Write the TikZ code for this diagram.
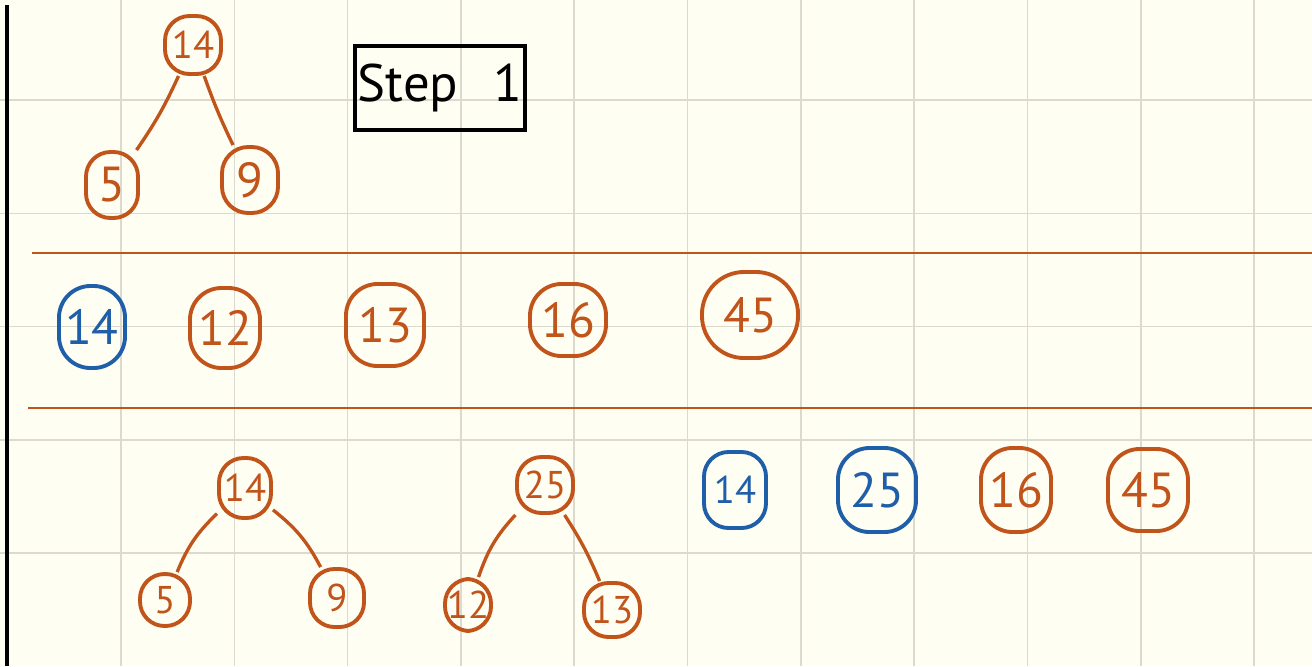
\documentclass[tikz,border=0pt]{standalone}
\usepackage{fontspec}
\setmainfont{PT Sans}
\usetikzlibrary{positioning}
\definecolor{paper}{HTML}{FFFEF2}
\definecolor{gridc}{HTML}{DCDACF}
\definecolor{rust}{HTML}{C0541A}
\definecolor{ink}{HTML}{1F5EA8}
\tikzstyle{gridline}=[gridc,line width=0.45pt]
\tikzstyle{knot}=[draw,rust,text=rust,line width=1.1pt,rounded corners=9pt,inner sep=0pt,font=\fontsize{14}{14}\selectfont]
\tikzstyle{bknot}=[knot,draw=ink,text=ink]
\tikzstyle{small}=[font=\fontsize{11}{11}\selectfont,rounded corners=7pt]
\tikzstyle{edge}=[rust,line width=0.95pt]

\begin{document}
\begin{tikzpicture}[x=0.01cm,y=-0.01cm]
	\fill[paper] (0,0) rectangle (1312,666);
	\useasboundingbox (0,0) rectangle (1312,666);
	% grid
	\foreach \i in {0,...,10}
	{
		\draw[gridline] ({121+113.3*\i},0) -- ++(0,666);
	}
	\foreach \j in {0,...,4}
	{
		\draw[gridline] (0,{100+113.3*\j}) -- ++(1312,0);
	}
	\draw[black,line width=0.9pt] (7,5) -- (7,666);
	% step 1
	\node[draw,black,line width=1.1pt,inner sep=0pt,minimum width=1.7cm,minimum height=0.84cm,font=\fontsize{15}{15}\selectfont] (stepbox) at (440,88) {Step\hspace{0.35cm}1};
	% first tree
	\node[knot,small,minimum width=0.56cm,minimum height=0.58cm] (a14) at (193,45) {14};
	\node[knot,rounded corners=7pt,minimum width=0.52cm,minimum height=0.66cm] (a5) at (112,185) {5};
	\node[knot,rounded corners=7.5pt,minimum width=0.56cm,minimum height=0.66cm] (a9) at (250,180) {9};
	\draw[edge] (a14) to [bend left=5] (a5);
	\draw[edge] (a14) to [bend right=3] (a9);
	% separators
	\draw[rust,line width=0.7pt] (32,253) -- (1312,253);
	\draw[rust,line width=0.7pt] (28,408) -- (1312,408);
	% middle row
	\node[bknot,minimum width=0.66cm,minimum height=0.82cm] (m14) at (92,327) {14};
	\node[knot,minimum width=0.70cm,minimum height=0.80cm] (m12) at (225,328) {12};
	\node[knot,minimum width=0.78cm,minimum height=0.82cm] (m13) at (385,325) {13};
	\node[knot,minimum width=0.76cm,minimum height=0.72cm] (m16) at (568,320) {16};
	\node[knot,minimum width=0.96cm,minimum height=0.86cm,rounded corners=12pt] (m45) at (750,315) {45};
	% bottom trees
	\node[knot,small,minimum width=0.52cm,minimum height=0.60cm] (b14) at (245,488) {14};
	\node[knot,small,minimum width=0.50cm,minimum height=0.52cm] (b5) at (165,600) {5};
	\node[knot,small,minimum width=0.54cm,minimum height=0.58cm] (b9) at (337,598) {9};
	\draw[edge] (b14) to [bend right=12] (b5);
	\draw[edge] (b14) to [bend left=12] (b9);
	\node[knot,small,minimum width=0.56cm,minimum height=0.56cm] (b25) at (545,485) {25};
	\node[knot,small,minimum width=0.46cm,minimum height=0.52cm] (b12) at (468,605) {12};
	\node[knot,small,minimum width=0.56cm,minimum height=0.54cm] (b13) at (612,610) {13};
	\draw[edge] (b25) to [bend right=12] (b12);
	\draw[edge] (b25) to [bend left=5] (b13);
	% bottom row
	\node[bknot,small,minimum width=0.62cm,minimum height=0.76cm] (c14) at (735,490) {14};
	\node[bknot,minimum width=0.78cm,minimum height=0.84cm] (c25) at (877,490) {25};
	\node[knot,minimum width=0.70cm,minimum height=0.84cm] (c16) at (1016,490) {16};
	\node[knot,minimum width=0.80cm,minimum height=0.82cm] (c45) at (1148,490) {45};
\end{tikzpicture}
\end{document}
